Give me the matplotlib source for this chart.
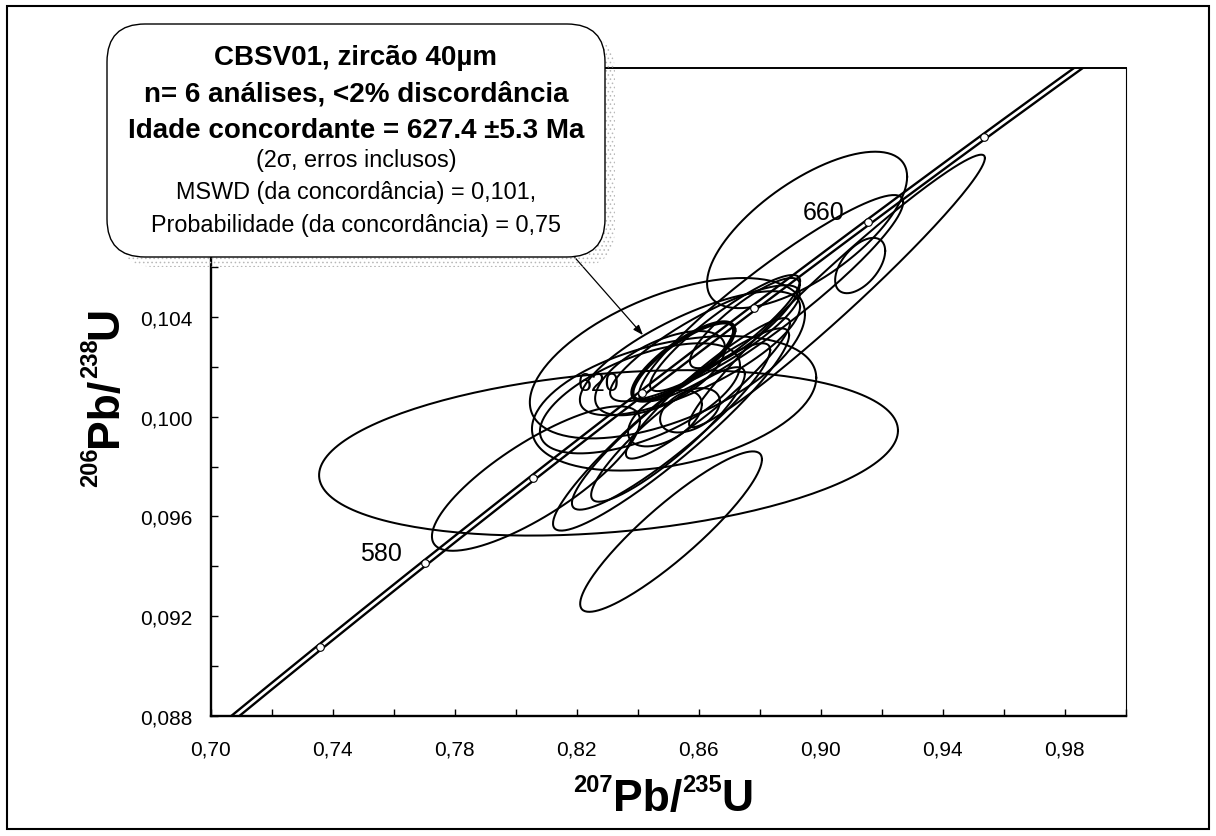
import numpy as np
import matplotlib
matplotlib.use('Agg')
import matplotlib.pyplot as plt
from matplotlib.patches import FancyBboxPatch, Rectangle
from matplotlib.ticker import FixedLocator, FuncFormatter
from matplotlib.transforms import IdentityTransform

plt.rcParams['font.family'] = ['Liberation Sans', 'DejaVu Sans']
plt.rcParams['hatch.linewidth'] = 0.6

W, H = 1216, 837

# decay constants (1/yr)
L238 = 1.55125e-10
L235 = 9.8485e-10

# analyses: 207Pb/235U, 2s abs, 206Pb/238U, 2s abs, error correlation
r75 = [0.8305, 0.8510, 0.8067, 0.8520, 0.8956, 0.9130, 0.9054, 0.8838,
       0.8498, 0.8572, 0.8621, 0.8474, 0.8687, 0.8752, 0.8510, 0.8510,
       0.8500, 0.8631, 0.8490, 0.8572, 0.8408]
err75 = [0.0949, 0.0298, 0.0341, 0.0466, 0.0328, 0.0082, 0.0485, 0.0433,
         0.0451, 0.0361, 0.0311, 0.0213, 0.0246, 0.0180, 0.0387, 0.0325,
         0.0252, 0.0269, 0.0121, 0.0098, 0.0328]
r68 = [0.09855, 0.09539, 0.09752, 0.10054, 0.10750, 0.10607, 0.10505, 0.10476,
       0.10235, 0.10255, 0.10295, 0.10175, 0.10336, 0.10376, 0.09949, 0.09961,
       0.09929, 0.10114, 0.09994, 0.10026, 0.10074]
err68 = [0.00332, 0.00322, 0.00290, 0.00270, 0.00314, 0.00111, 0.00547, 0.00414,
         0.00322, 0.00249, 0.00233, 0.00169, 0.00233, 0.00181, 0.00406, 0.00334,
         0.00270, 0.00282, 0.00113, 0.00089, 0.00221]
rho = [0.27, 0.90, 0.80, 0.38, 0.68, 0.53, 0.975, 0.93,
       0.55, 0.75, 0.85, 0.60, 0.90, 0.85, 0.93, 0.92,
       0.90, 0.93, 0.50, 0.40, 0.60]

# concordia age ellipse
conc_age = 627.4
conc_err75, conc_err68, conc_rho = 0.0167, 0.00157, 0.80

tick_ages = [560, 580, 600, 620, 640, 660, 680, 700]
label_ages = [580, 620, 660]

box_lines = [
    ('CBSV01, zircão 40µm', 'bold'),
    ('n= 6 análises, <2% discordância', 'bold'),
    ('Idade concordante = 627.4 ±5.3 Ma', 'bold'),
    ('(2σ, erros inclusos)', 'normal'),
    ('MSWD (da concordância) = 0,101,', 'normal'),
    ('Probabilidade (da concordância) = 0,75', 'normal'),
]


def conc(age_ma):
    t = np.asarray(age_ma) * 1e6
    return np.expm1(L235 * t), np.expm1(L238 * t)


def ellipse(x, ex, y, ey, r, n=200):
    t = np.linspace(0, 2 * np.pi, n)
    return x + ex * np.cos(t), y + ey * (r * np.cos(t) + np.sqrt(1 - r * r) * np.sin(t))


def text_run(fig, x0, y0, parts, vertical=False):
    # parts: (text, size, rise px); coords in image pixels (top-left origin)
    r = fig.canvas.get_renderer()
    pos = x0 if not vertical else H - y0
    for s, size, rise in parts:
        if not vertical:
            t = fig.text(pos, H - y0 + rise, s, fontsize=size, weight='bold',
                         ha='left', va='baseline', transform=IdentityTransform())
            pos += t.get_window_extent(r).width
        else:
            t = fig.text(x0 - rise, pos, s, fontsize=size, weight='bold', rotation=90,
                         rotation_mode='anchor', ha='left', va='baseline',
                         transform=IdentityTransform())
            pos += t.get_window_extent(r).height


def ytick_fmt(v, p):
    # labels above 0.106 sit under the text box
    if v > 0.1065:
        return ''
    return f'{v:.3f}'.replace('.', ',')


fig = plt.figure(figsize=(W / 100, H / 100), dpi=100)
ax = fig.add_axes([210.5 / W, 1 - 716.7 / H, 915 / W, (716.7 - 69) / H])

# concordia band
cx, cy = conc(np.linspace(480, 740, 500))
ax.plot(cx, cy, color='k', lw=5.4, zorder=2)
ax.plot(cx, cy, color='w', lw=2.0, zorder=2.1)

for i in range(len(r75)):
    ex, ey = ellipse(r75[i], err75[i], r68[i], err68[i], rho[i])
    ax.plot(ex, ey, color='k', lw=1.45, zorder=3)

ax_, ay_ = conc(conc_age)
ex, ey = ellipse(ax_, conc_err75, ay_, conc_err68, conc_rho)
ax.plot(ex, ey, color='k', lw=3.0, zorder=3.5)

mx, my = conc(tick_ages)
ax.plot(mx, my, 'o', ms=5.5, mfc='w', mec='k', mew=0.8, zorder=5)

for a in label_ages:
    lx, ly = conc(a)
    ax.annotate(str(a), xy=(lx, ly), xytext=(-31.7, 7.2), textcoords='offset points',
                ha='center', va='center', fontsize=18, zorder=4)

ax.set_xlim(0.70, 1.00)
ax.set_ylim(0.088, 0.114)
ax.xaxis.set_major_locator(FixedLocator(np.arange(0.70, 1.001, 0.04)))
ax.xaxis.set_minor_locator(FixedLocator(np.arange(0.72, 1.001, 0.04)))
ax.yaxis.set_major_locator(FixedLocator(np.arange(0.088, 0.1141, 0.004)))
ax.yaxis.set_minor_locator(FixedLocator(np.arange(0.090, 0.1141, 0.004)))
ax.xaxis.set_major_formatter(FuncFormatter(lambda v, p: f'{v:.2f}'.replace('.', ',')))
ax.yaxis.set_major_formatter(FuncFormatter(ytick_fmt))
ax.tick_params(which='both', direction='in', length=5, width=1.0, labelsize=15)
ax.tick_params(axis='x', pad=17)
ax.tick_params(axis='y', pad=13)
ax.spines['left'].set_linewidth(1.7)
ax.spines['bottom'].set_linewidth(1.7)
ax.spines['top'].set_linewidth(1.4)
ax.spines['right'].set_linewidth(0.8)

# arrow from text box to concordia ellipse
ax.annotate('', xy=(0.8418, 0.10328), xycoords='data',
            xytext=(570 / W, 1 - 253 / H), textcoords='figure fraction',
            arrowprops=dict(arrowstyle='-|>,head_length=0.6,head_width=0.22',
                            color='k', lw=0.9, shrinkA=0, shrinkB=0), zorder=6)

# text box with shadow
shadow = FancyBboxPatch((117, H - 268), 498, 233, boxstyle='round,pad=0,rounding_size=38',
                        transform=IdentityTransform(), fc='none', ec='#b8b8b8',
                        hatch='....', lw=0, zorder=9)
fig.add_artist(shadow)
box = FancyBboxPatch((107, H - 258), 498, 233, boxstyle='round,pad=0,rounding_size=38',
                     transform=IdentityTransform(), fc='w', ec='k', lw=1.0, zorder=10)
fig.add_artist(box)
baselines = [65, 101.7, 138.3, 166.5, 199.3, 231.7]
for (s, wgt), b in zip(box_lines, baselines):
    fig.text(356 / W, 1 - b / H, s, ha='center', va='baseline', zorder=11,
             fontsize=20 if wgt == 'bold' else 16.8, weight=wgt)

# axis titles with superscripts
text_run(fig, 573, 811, [('207', 17, 19), ('Pb/', 32, 0), ('235', 17, 19), ('U', 32, 0)])
text_run(fig, 117, 487, [('206', 17, 20), ('Pb/', 32, 0), ('238', 17, 20), ('U', 32, 0)],
         vertical=True)

# outer frame
fig.add_artist(Rectangle((7, 7), W - 14, H - 14, transform=IdentityTransform(),
                         fill=False, ec='k', lw=1.5, zorder=20))

fig.savefig('out.png', dpi=100)
